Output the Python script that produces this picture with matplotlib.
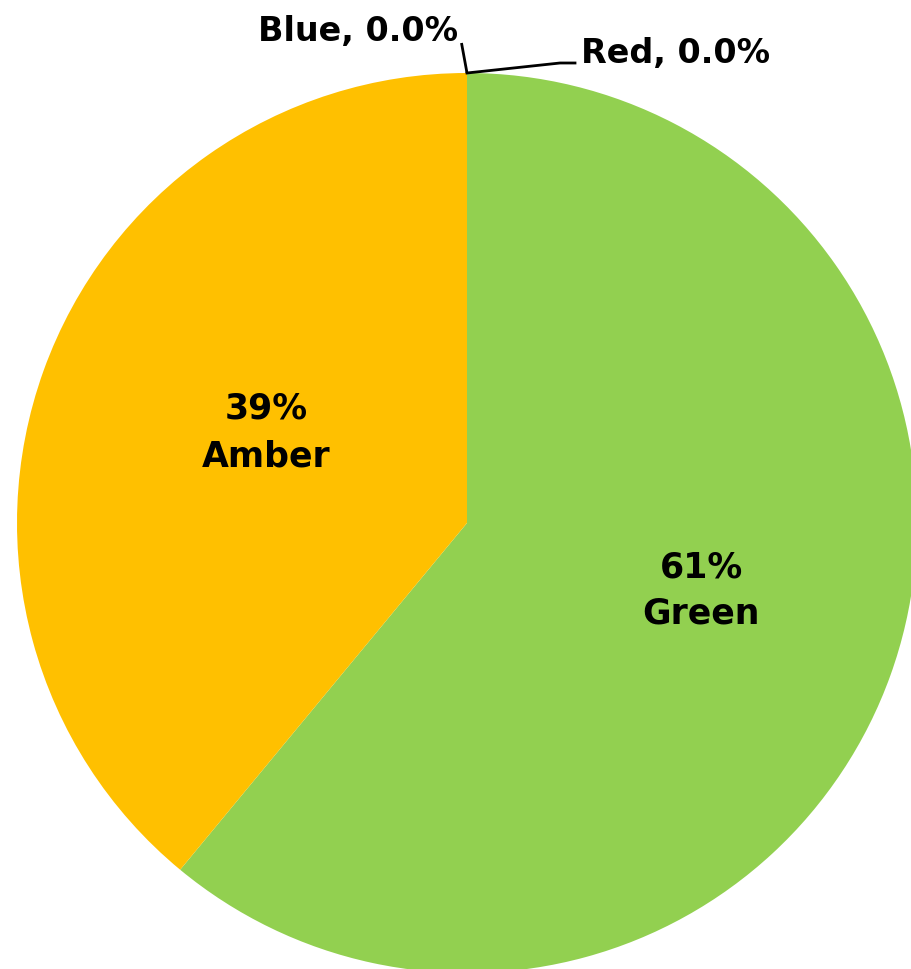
import numpy as np
import matplotlib
matplotlib.use("Agg")
import matplotlib.pyplot as plt

CATEGORIES = ["Green", "Amber", "Blue", "Red"]
SHARES = [61, 39, 0, 0]
COLORS = ["#92D050", "#FFC000", "#4472C4", "#FF0000"]

# pixel layout (y measured up from the bottom)
W, H = 911, 969
CENTER = (467, 446)
RADIUS = 450


def main():
    fig = plt.figure(figsize=(W / 100, H / 100), dpi=100)
    ax = fig.add_axes([0, 0, 1, 1])
    wedges, _ = ax.pie(SHARES, colors=COLORS, startangle=90, counterclock=False,
                       center=CENTER, radius=RADIUS,
                       wedgeprops=dict(linewidth=0))
    ax.set_xlim(0, W)
    ax.set_ylim(0, H)
    ax.set_aspect("equal")
    ax.axis("off")

    # inside labels for the non-zero slices: (x, baseline of pct line, line gap)
    inside_pos = {"Green": (701, 391, 45), "Amber": (266, 551, 48)}
    total = sum(SHARES)
    for name, val in zip(CATEGORIES, SHARES):
        if val == 0:
            continue
        x, y, gap = inside_pos[name]
        ax.text(x, y, f"{val / total * 100:.0f}%", ha="center", va="baseline",
                fontsize=25, fontweight="bold")
        ax.text(x, y - gap, name, ha="center", va="baseline",
                fontsize=25, fontweight="bold")

    # zero slices sit at the top of the pie, labelled outside with leader lines
    top = wedges[2]
    ang = np.deg2rad(top.theta1)
    px = CENTER[0] + RADIUS * np.cos(ang)
    py = CENTER[1] + RADIUS * np.sin(ang)
    ax.plot([px, px - 5.5], [py, py + 30], color="black", lw=2, solid_capstyle="butt")
    ax.text(458, 928, f"{CATEGORIES[2]}, {SHARES[2]:.1f}%", ha="right", va="baseline",
            fontsize=24, fontweight="bold")
    ax.plot([px, px + 93, px + 108], [py, py + 10, py + 10], color="black", lw=2)
    ax.text(581, 906, f"{CATEGORIES[3]}, {SHARES[3]:.1f}%", ha="left", va="baseline",
            fontsize=24, fontweight="bold")

    fig.savefig("out.png", dpi=100, facecolor="white")


if __name__ == "__main__":
    main()
